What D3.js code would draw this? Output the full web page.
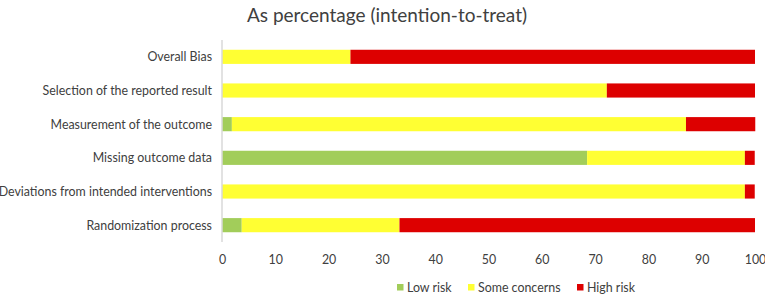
<!DOCTYPE html>
<html><head><meta charset="utf-8">
<script src="https://cdn.jsdelivr.net/npm/d3@7"></script>
<style>body{margin:0;background:#fff}svg{display:block;font-family:Lato,"Open Sans",sans-serif}</style>
</head><body><svg id="c" width="765" height="295"></svg>
<script>
const categories = ["Overall Bias","Selection of the reported result","Measurement of the outcome","Missing outcome data","Deviations from intended interventions","Randomization process"];
const lowRisk = [0, 0, 1.85, 68.5, 0, 3.7];
const someConcerns = [24.1, 72.2, 85.2, 29.6, 98.1, 29.6];
const highRisk = [75.9, 27.8, 13.0, 1.85, 1.85, 66.7];
const xTicks = [0,10,20,30,40,50,60,70,80,90,100];
const seriesNames = ["Low risk","Some concerns","High risk"];
const colors = ["#A2CD5A","#FFFF33","#DD0000"];

const svg = d3.select("#c");
const x = d3.scaleLinear().domain([0,100]).range([222,755]);
const y = d3.scaleBand().domain(categories).range([40,242]).paddingInner(0.58).paddingOuter(0.29);

svg.append("text").attr("x",387).attr("y",22).attr("text-anchor","middle")
  .attr("font-size",19).attr("fill","#404040").text("As percentage (intention-to-treat)");

const rows = categories.map((c,i)=>({c, v:[lowRisk[i],someConcerns[i],highRisk[i]]}));
rows.forEach(r=>{
  let acc=0;
  r.v.forEach((val,j)=>{
    if(val>0){
      svg.append("rect").attr("x",x(acc)).attr("y",y(r.c)).attr("width",x(acc+val)-x(acc))
        .attr("height",y.bandwidth()).attr("fill",colors[j]);
    }
    acc+=val;
  });
});

svg.append("line").attr("x1",222).attr("x2",222).attr("y1",40).attr("y2",242).attr("stroke","#D9D9D9").attr("stroke-width",1.5);
svg.selectAll(".cl").data(categories).enter().append("text")
  .attr("x",212).attr("y",d=>y(d)+y.bandwidth()/2+4.5).attr("text-anchor","end")
  .attr("font-size",12.4).attr("fill","#404040").text(d=>d);

const xa = svg.append("g").attr("transform","translate(0,252)")
  .call(d3.axisBottom(x).tickValues(xTicks).tickSize(0).tickFormat(d3.format("d")));
xa.select(".domain").remove();
xa.selectAll("text").attr("font-size",12.4).attr("fill","#404040").attr("font-family","Lato,'Open Sans',sans-serif");

const legX = [397, 468, 577];
seriesNames.forEach((n,i)=>{
  svg.append("rect").attr("x",legX[i]).attr("y",284).attr("width",6.5).attr("height",6.5).attr("fill",colors[i]);
  svg.append("text").attr("x",legX[i]+10).attr("y",292).attr("font-size",12.4).attr("fill","#404040").text(n);
});
</script></body></html>
